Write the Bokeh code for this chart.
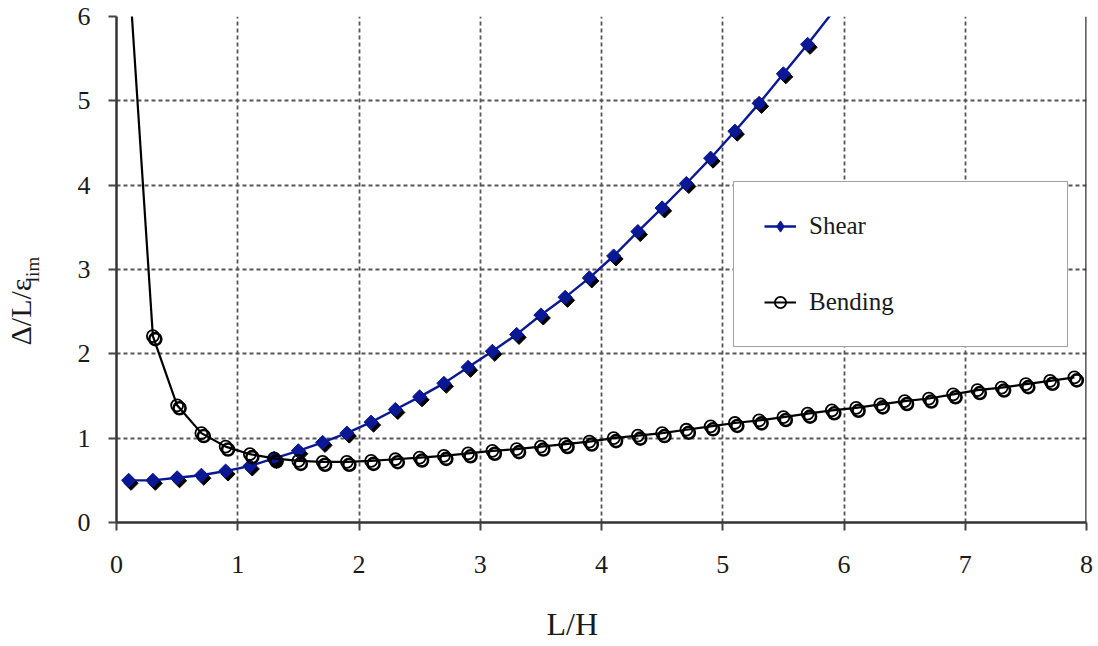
import math
from bokeh.plotting import figure
from bokeh.models import (Range1d, FixedTicker, Legend, LegendItem, ColumnDataSource, Span,
                          LinearAxis, Title)
from bokeh.transform import dodge
from bokeh.embed import file_html
from bokeh.resources import INLINE

# ---- data ----
lh = [0.1, 0.3, 0.5, 0.7, 0.9, 1.1, 1.3, 1.5, 1.7, 1.9,
      2.1, 2.3, 2.5, 2.7, 2.9, 3.1, 3.3, 3.5, 3.7, 3.9,
      4.1, 4.3, 4.5, 4.7, 4.9, 5.1, 5.3, 5.5, 5.7, 5.9,
      6.1, 6.3, 6.5, 6.7, 6.9, 7.1, 7.3, 7.5, 7.7, 7.9]

shear = [0.50, 0.50, 0.53, 0.56, 0.61, 0.67, 0.76, 0.85, 0.95, 1.06,
         1.19, 1.34, 1.49, 1.65, 1.84, 2.03, 2.23, 2.46, 2.67, 2.90,
         3.16, 3.45, 3.73, 4.02, 4.32, 4.64, 4.97, 5.32, 5.67, 6.04]

bending = [6.60, 2.21, 1.39, 1.06, 0.90, 0.81, 0.76, 0.73, 0.72, 0.72,
           0.73, 0.75, 0.77, 0.79, 0.82, 0.85, 0.87, 0.90, 0.93, 0.96,
           1.00, 1.03, 1.06, 1.10, 1.14, 1.18, 1.21, 1.25, 1.29, 1.33,
           1.36, 1.40, 1.44, 1.47, 1.52, 1.57, 1.60, 1.64, 1.68, 1.72]

x_ticks = [0, 1, 2, 3, 4, 5, 6, 7, 8]
y_ticks = [0, 1, 2, 3, 4, 5, 6]
series_names = ["Shear", "Bending"]
x_title = "L/H"
y_title_main = "Δ/L/ε"
y_title_sub = "lim"

X_MAX, Y_MAX = 8, 6

BLUE = "#0a1896"
FONT = "Liberation Serif"
TXT = "#1a1a1a"

p = figure(width=1098, height=646, x_range=Range1d(0, X_MAX), y_range=Range1d(0, Y_MAX),
           output_backend="svg", toolbar_location=None,
           min_border_left=116, min_border_right=12, min_border_top=16, min_border_bottom=124)
p.outline_line_color = None
p.background_fill_color = "white"
p.border_fill_color = "white"

for ax, ticks in ((p.xaxis[0], x_ticks), (p.yaxis[0], y_ticks)):
    ax.ticker = FixedTicker(ticks=ticks)
    ax.minor_tick_line_color = None
    ax.major_tick_in = 0
    ax.major_tick_out = 8
    ax.major_tick_line_color = "#444444"
    ax.major_tick_line_width = 2
    ax.axis_line_color = "#333333"
    ax.axis_line_width = 2.5
    ax.major_label_text_font = FONT
    ax.major_label_text_font_size = "26px"
    ax.major_label_text_color = TXT
p.xaxis.major_label_standoff = 25
p.yaxis.major_label_standoff = 18

# subscript of the y title sits on the main y axis
yax = p.yaxis[0]
yax.axis_label = y_title_sub
yax.axis_label_text_font = FONT
yax.axis_label_text_font_size = "19px"
yax.axis_label_text_font_style = "normal"
yax.axis_label_text_color = TXT
yax.axis_label_standoff = 32

# main part of the y title
p.add_layout(Title(text=y_title_main, align="left", offset=177, vertical_align="bottom",
                   standoff=-36, text_font=FONT, text_font_size="30px",
                   text_font_style="normal", text_color=TXT), "left")

# invisible spacer below the x axis (white tick, hidden label), then the x title
p.add_layout(LinearAxis(ticker=FixedTicker(ticks=[0]), axis_line_color=None,
                        major_tick_out=30, major_tick_in=0, major_tick_line_color="white",
                        major_label_text_color=None, major_label_standoff=0,
                        minor_tick_line_color=None), "below")
p.add_layout(Title(text=x_title, align="left", offset=430, vertical_align="top",
                   standoff=0, text_font=FONT, text_font_size="32px",
                   text_font_style="normal", text_color=TXT), "below")

p.xgrid.ticker = FixedTicker(ticks=x_ticks[1:])
p.ygrid.ticker = FixedTicker(ticks=y_ticks[1:])
for g in (p.xgrid[0], p.ygrid[0]):
    g.grid_line_color = "#555555"
    g.grid_line_dash = "4 3"
    g.grid_line_width = 1.8

p.add_layout(Span(location=X_MAX, dimension="height", line_color="#333333", line_width=2.5))

# ---- Shear ----
src_sl = ColumnDataSource(dict(x=lh[:len(shear)], y=shear))
sm_x = [x for x, y in zip(lh, shear) if y < Y_MAX]
sm_y = [y for y in shear if y < Y_MAX]
src_sm = ColumnDataSource(dict(x=sm_x, y=sm_y))
line_s = p.line("x", "y", source=src_sl, line_color=BLUE, line_width=2.4)
p.scatter(x=dodge("x", 0.02), y=dodge("y", -0.035), source=src_sm, marker="square",
          angle=math.pi / 4, size=10, fill_color="black", line_color="black")
p.scatter("x", "y", source=src_sm, marker="square", angle=math.pi / 4, size=10,
          fill_color=BLUE, line_color=BLUE)
leg_s = p.scatter("x", "y", source=src_sm, marker="diamond", size=12,
                  fill_color=BLUE, line_color=BLUE, visible=False)

# ---- Bending ----
src_b = ColumnDataSource(dict(x=lh, y=bending))
line_b = p.line("x", "y", source=src_b, line_color="black", line_width=2.2)
p.scatter(x=dodge("x", 0.02), y=dodge("y", -0.035), source=src_b, marker="circle", size=12,
          fill_color=None, line_color="black", line_width=2.6)
mark_b = p.scatter("x", "y", source=src_b, marker="circle", size=12,
                   fill_color=None, line_color="black", line_width=1.8)

legend = Legend(items=[LegendItem(label=series_names[0], renderers=[line_s, leg_s]),
                       LegendItem(label=series_names[1], renderers=[line_b, mark_b])],
                location=(617, 175), orientation="vertical",
                padding=30, spacing=48, glyph_width=32, glyph_height=28,
                label_height=28, label_width=228, label_standoff=13,
                label_text_font=FONT, label_text_font_size="25px", label_text_color=TXT,
                border_line_color="#444444", border_line_width=1.5,
                background_fill_color="white", background_fill_alpha=1.0, margin=0,
                inactive_fill_alpha=0.0, click_policy="none")
p.add_layout(legend)

open("out.html", "w").write(file_html(p, INLINE))
